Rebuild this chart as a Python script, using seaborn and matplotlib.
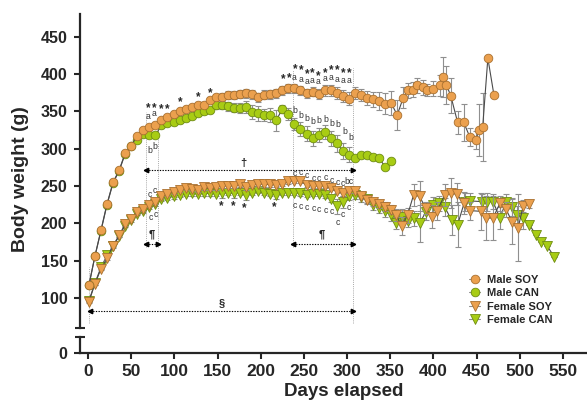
import matplotlib
matplotlib.use("Agg")
import matplotlib.pyplot as plt
from matplotlib.lines import Line2D
import seaborn as sns
import pandas as pd

# ---- data ----
weekly_days = [1, 8, 15, 22, 29, 36, 43, 50, 57, 64, 71, 78, 85, 92, 99, 106, 113,
               120, 127, 134, 141, 148, 155, 162, 169, 176, 183, 190, 197, 204, 211,
               218, 225, 232, 239, 246, 253, 260, 267, 274, 281, 288, 295, 302, 309,
               316, 323, 330, 337, 344, 351]

male_soy_weekly = [117, 156, 191, 226, 255, 271, 294, 304, 317, 325,
                   329, 332, 338, 342, 346, 350, 353, 356, 359, 358,
                   365, 369, 369, 372, 372, 373, 374, 373, 369, 372,
                   373, 374, 378, 381, 381, 378, 374, 376, 373, 378,
                   378, 375, 370, 367, 374, 372, 368, 366, 364, 360, 361]
male_soy_weekly_err = [2, 3, 3, 3, 3, 3, 3, 3, 3, 3,
                       3, 3, 3, 3, 3, 3, 3, 3, 3, 4,
                       4, 4, 5, 5, 5, 5, 6, 6, 6, 6,
                       6, 6, 6, 6, 6, 6, 6, 6, 7, 7,
                       7, 8, 8, 9, 8, 8, 9, 10, 12, 14, 16]
male_soy_tail_days = [358, 365, 370, 376, 381, 388, 393, 400, 407, 411, 415, 420,
                      428, 435, 442, 449, 453, 457, 463, 470]
male_soy_tail = [345, 368, 378, 379, 385, 382, 379, 380, 385, 396, 385, 371,
                 335, 335, 316, 312, 325, 329, 421, 372]
male_soy_tail_err = [20, 14, 10, 10, 10, 10, 8, 10, 14, 27, 25, 24,
                     16, 25, 12, 12, 35, 45, 0, 0]

male_can_weekly = [117, 156, 190, 225, 254, 270, 293, 303, 312, 319,
                   318, 318, 331, 334, 336, 338, 341, 343, 347, 350,
                   352, 358, 358, 357, 355, 354, 356, 349, 347, 345,
                   345, 338, 353, 346, 333, 326, 320, 314, 318, 322,
                   314, 307, 297, 292, 288, 291, 291, 289, 287, 276, 283]
male_can_weekly_err = [2, 2, 2, 2, 2, 2, 2, 2, 3, 3,
                       3, 3, 3, 3, 3, 3, 3, 3, 3, 4,
                       4, 5, 5, 6, 6, 7, 8, 9, 10, 8,
                       9, 14, 6, 8, 8, 9, 10, 10, 9, 9,
                       10, 11, 11, 10, 3, 3, 3, 3, 3, 3, 3]

female_soy_weekly = [95, 119, 139, 153, 170, 184, 199, 206, 215, 219,
                     225, 229, 237, 239, 242, 245, 247, 246, 245, 248,
                     247, 248, 250, 250, 250, 252, 248, 251, 253, 252,
                     252, 251, 253, 256, 257, 257, 251, 250, 250, 250,
                     247, 243, 240, 243, 243, 236, 231, 228, 226, 222, 218]
female_soy_weekly_err = [2, 2, 2, 2, 2, 2, 2, 2, 2, 3,
                         3, 3, 3, 3, 3, 3, 3, 3, 3, 3,
                         3, 3, 3, 3, 3, 3, 3, 3, 3, 3,
                         3, 3, 3, 3, 3, 3, 3, 3, 3, 3,
                         3, 3, 3, 3, 3, 4, 4, 5, 5, 6, 6]
female_soy_tail_days = [357, 363, 370, 377, 384, 391, 398, 404, 413, 420, 427,
                        435, 442, 455, 461, 469, 477, 484, 491, 498, 504, 511]
female_soy_tail = [211, 196, 211, 238, 236, 220, 209, 216, 238, 240, 239,
                   227, 217, 216, 207, 207, 227, 219, 202, 194, 223, 226]
female_soy_tail_err = [8, 12, 10, 15, 20, 8, 15, 12, 15, 20, 15,
                       15, 12, 25, 30, 30, 10, 10, 30, 45, 8, 5]

female_can_weekly = [96, 120, 141, 157, 169, 183, 197, 204, 213, 217,
                     222, 226, 233, 234, 236, 238, 239, 240, 239, 240,
                     240, 239, 240, 241, 240, 241, 238, 241, 243, 241,
                     239, 238, 241, 241, 241, 240, 238, 239, 239, 238,
                     233, 223, 229, 236, 238, 235, 232, 225, 221, 216, 211]
female_can_weekly_err = [2, 2, 2, 2, 2, 2, 2, 2, 2, 3,
                         3, 3, 3, 3, 3, 3, 3, 3, 3, 3,
                         3, 3, 6, 3, 6, 3, 7, 3, 3, 3,
                         3, 6, 3, 3, 3, 3, 3, 3, 3, 4,
                         4, 10, 8, 5, 5, 6, 6, 7, 7, 8, 8]
female_can_tail_days = [357, 363, 370, 377, 384, 391, 400, 406, 413, 421, 428, 436,
                        442, 456, 462, 469, 477, 484, 491, 497, 504, 511, 519, 525,
                        532, 540]
female_can_tail = [200, 209, 203, 207, 200, 215, 225, 227, 222, 204, 198, 229,
                   230, 229, 229, 229, 207, 229, 222, 211, 207, 198, 184, 175,
                   169, 155]
female_can_tail_err = [8, 10, 8, 10, 25, 10, 10, 10, 12, 20, 30, 12,
                       10, 10, 12, 10, 15, 10, 12, 12, 15, 0, 0, 0, 0, 0]

x_ticks = [0, 50, 100, 150, 200, 250, 300, 350, 400, 450, 500, 550]
y_ticks = [100, 150, 200, 250, 300, 350, 400, 450]

# ---- style ----
ORANGE, ORANGE_EDGE = "#EBA04E", "#A9702F"
GREEN, GREEN_EDGE = "#A8CC14", "#6E8C12"
LINE = "#4a4a4a"
ERR = "#8f8f8f"
GUIDE = "#a8a8a8"

sns.set_style("ticks")
plt.rcParams["font.family"] = ["Liberation Sans", "DejaVu Sans"]

rows = []
def add(name, days, vals, errs):
    for d, v, e in zip(days, vals, errs):
        rows.append({"group": name, "day": d, "weight": v, "sem": e})

add("Female CAN", weekly_days + female_can_tail_days,
    female_can_weekly + female_can_tail, female_can_weekly_err + female_can_tail_err)
add("Female SOY", weekly_days + female_soy_tail_days,
    female_soy_weekly + female_soy_tail, female_soy_weekly_err + female_soy_tail_err)
add("Male CAN", weekly_days, male_can_weekly, male_can_weekly_err)
add("Male SOY", weekly_days + male_soy_tail_days,
    male_soy_weekly + male_soy_tail, male_soy_weekly_err + male_soy_tail_err)
df = pd.DataFrame(rows)

styles = {
    "Female CAN": ("v", GREEN, GREEN_EDGE, 6.8),
    "Female SOY": ("v", ORANGE, ORANGE_EDGE, 6.8),
    "Male CAN": ("o", GREEN, GREEN_EDGE, 6.2),
    "Male SOY": ("o", ORANGE, ORANGE_EDGE, 6.2),
}

W, H = 587, 405
fig = plt.figure(figsize=(W / 100, H / 100), dpi=100)
ax = fig.add_axes([80 / W, 1 - 328 / H, 1 - 80 / W, (328 - 14) / H])
axb = fig.add_axes([80 / W, 1 - 353 / H, 1 - 80 / W, 16 / H])
XLIM = (-9.3, 577.8)

z = 2
for name in ["Female CAN", "Female SOY", "Male CAN", "Male SOY"]:
    sub = df[df["group"] == name]
    mk, fc, ec, ms = styles[name]
    ax.errorbar(sub["day"], sub["weight"], yerr=sub["sem"], fmt="none", ecolor=ERR,
                elinewidth=0.8, capsize=2.2, capthick=0.8, zorder=z)
    sns.lineplot(data=sub, x="day", y="weight", ax=ax, errorbar=None, color=LINE,
                 linewidth=0.8, marker=mk, markersize=ms, markerfacecolor=fc,
                 markeredgecolor=ec, markeredgewidth=0.6, zorder=z + 1)
    z += 2

# ---- guides and arrows ----
def vguide(d, y0, y1):
    ax.plot([d, d], [y0, y1], color=GUIDE, lw=0.7, ls=(0, (1, 1.2)), zorder=1)

def harrow(xa, xb, y, label, lx, ly):
    ax.plot([xa, xb], [y, y], color="black", lw=0.8, ls=(0, (1.2, 1.2)), zorder=1)
    ax.plot([xa], [y], marker="<", color="black", ms=3.2, zorder=1)
    ax.plot([xb], [y], marker=">", color="black", ms=3.2, zorder=1)
    ax.text(lx, ly, label, ha="center", va="center", fontsize=8, fontweight="bold")

vguide(67.2, 168, 349)
vguide(80.7, 168, 336)
vguide(236.8, 168, 405)
vguide(307.4, 66, 408)
vguide(1.5, 66, 141)

harrow(67.2, 307.4, 271.4, "†", 180, 281)
harrow(67.2, 80.7, 172.3, "¶", 73.8, 185.5)
harrow(236.8, 307.4, 172.8, "¶", 270.6, 185.5)
harrow(2.5, 307.4, 81.9, "§", 154.8, 93.5)

# ---- significance marks ----
male_stars = [(69.5, 357), (76.4, 357), (84.5, 356), (91.5, 356), (106.5, 366),
              (127.4, 373), (141.3, 378), (225.8, 396), (232.7, 398), (239.7, 410),
              (246.6, 408), (253.6, 403), (259.4, 404), (266.3, 401), (274.4, 405),
              (281.4, 409), (288.3, 408), (295.3, 405), (302.2, 404)]
female_stars = [(154, 225.8), (167.9, 225.8), (180.6, 223.2), (215.4, 224.5)]
male_a = [(69.5, 343.6), (76.4, 347.7), (238.5, 395.8), (246.3, 393.2), (253.2, 390.5),
          (259.7, 391.8), (266.7, 390.5), (274.4, 394.5), (281, 395.8), (288, 393.2),
          (295.6, 391.8), (302.2, 391.8)]
male_b = [(71.8, 298), (77.9, 302.5), (239.7, 351.7), (246.3, 345), (253.9, 340.6),
          (260.9, 336), (267.5, 338.3), (275.2, 339.6), (282.2, 333.9), (289.8, 332.9),
          (297.6, 323.6), (304.2, 314.6)]
female_c_up = [(71.8, 239.2), (77.9, 244.6), (239.7, 266.9), (246.3, 267.7),
               (253.2, 264.7), (260.9, 260.2), (267.5, 260.2), (275.2, 261.6),
               (282.2, 258), (288.7, 254.4), (295.6, 253.6)]
female_c_low = [(72.6, 208), (78.7, 212), (239.7, 224.5), (246.3, 222.5), (253.2, 221.4),
                (260.9, 220.5), (267.5, 219.1), (275.2, 217.8), (282.2, 216.5),
                (288.7, 200.8), (295.6, 212.4), (302.2, 221.4)]

for x, y in male_stars + female_stars:
    ax.text(x, y - 7.5, "*", ha="center", va="baseline", fontsize=8.5, fontweight="bold")
for pts, ch in [(male_a, "a"), (male_b, "b"), (female_c_up, "c"), (female_c_low, "c")]:
    for x, y in pts:
        ax.text(x, y - 3.5, ch, ha="center", va="baseline", fontsize=6.2, color="#333333")
ax.text(302.2, 255.7 - 3.5, "bc", ha="center", va="baseline", fontsize=6.2, color="#333333")

# ---- axes ----
for a in (ax, axb):
    a.set_xlim(*XLIM)
    a.set_facecolor("none")
    for s in ("top", "right"):
        a.spines[s].set_visible(False)
    a.spines["left"].set_linewidth(1.6)
    a.set_xlabel("")
    a.set_ylabel("")

ax.spines["bottom"].set_visible(False)
ax.set_ylim(59.8, 480.2)
ax.set_yticks(y_ticks)
ax.set_yticks([60.3], minor=True)
ax.tick_params(axis="x", bottom=False, labelbottom=False)
ax.tick_params(axis="y", which="major", direction="out", length=4, width=1.5,
               labelsize=11.5, pad=5)
ax.tick_params(axis="y", which="minor", direction="inout", length=7, width=1.5)
for lbl in ax.get_yticklabels():
    lbl.set_fontweight("bold")

axb.spines["bottom"].set_linewidth(1.6)
axb.set_ylim(0, 21.4)
axb.set_yticks([0])
axb.set_yticks([21.0], minor=True)
axb.set_xticks(x_ticks)
axb.tick_params(axis="y", which="major", direction="out", length=4, width=1.5,
                labelsize=11.5, pad=5)
axb.tick_params(axis="y", which="minor", direction="inout", length=7, width=1.5)
axb.tick_params(axis="x", direction="out", length=4, width=1.5, labelsize=12.5, pad=4)
for lbl in axb.get_xticklabels() + axb.get_yticklabels():
    lbl.set_fontweight("bold")

fig.text(344 / W, 1 - 391 / H, "Days elapsed", ha="center", va="center",
         fontsize=13.5, fontweight="bold")
fig.text(21 / W, 1 - 179 / H, "Body weight (g)", ha="center", va="center",
         rotation=90, fontsize=14, fontweight="bold")

# ---- legend ----
handles = []
for name in ["Male SOY", "Male CAN", "Female SOY", "Female CAN"]:
    mk, fc, ec, ms = styles[name]
    handles.append(Line2D([0], [0], color=ERR, lw=0.8, marker=mk, markersize=ms,
                          markerfacecolor=fc, markeredgecolor=ec, markeredgewidth=0.6))
fig.legend(handles, ["Male SOY", "Male CAN", "Female SOY", "Female CAN"],
           loc="upper left", bbox_to_anchor=(469 / W, 1 - 275 / H), frameon=False,
           borderpad=0, borderaxespad=0, handlelength=1.0, handletextpad=0.6,
           labelspacing=0.3, prop={"weight": "bold", "size": 8})

fig.savefig("out.png", dpi=100)
